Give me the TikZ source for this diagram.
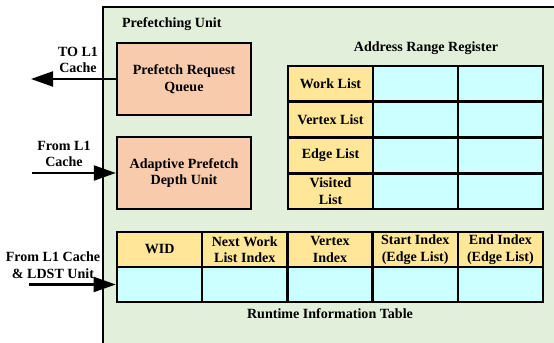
\documentclass[tikz,border=0pt]{standalone}
\usepackage{fontspec}
\setmainfont{Liberation Serif}
\usetikzlibrary{arrows.meta}

\definecolor{unitgreen}{HTML}{E2EFDA}
\definecolor{boxsalmon}{HTML}{F8CBAD}
\definecolor{headyellow}{HTML}{FFE699}
\definecolor{cellcyan}{HTML}{CCFFFF}

\begin{document}
\begin{tikzpicture}[x=0.03cm,y=-0.03cm,
	every node/.style={font=\bfseries\fontsize{12}{14}\selectfont,align=center},
	unitbox/.style={draw,line width=2pt,fill=boxsalmon,minimum width=4.02cm,minimum height=2.16cm},
	headcell/.style={draw,line width=2.2pt,fill=headyellow,inner sep=1pt,minimum width=2.556cm,minimum height=#1},
	datacell/.style={draw,line width=2.2pt,fill=cellcyan,inner sep=1pt,minimum width=2.556cm,minimum height=#1},
	bus/.style={line width=1.8pt,-{Triangle[length=6.6mm,width=4.5mm]}}]
	\useasboundingbox (0,0) rectangle (554,343);
	\begin{scope}
		\clip (0,0) rectangle (554,343);
		\draw[line width=1.8pt,fill=unitgreen] (103,7) rectangle (570,360);
	\end{scope}
	\draw (118,24) node[anchor=west](unittitle){Prefetching Unit};

	\node[unitbox] (prq) at (184,79) {Prefetch Request\\Queue};
	\node[unitbox] (apd) at (184,173) {Adaptive Prefetch\\Depth Unit};

	% address range register
	\draw (426,48) node(arrtitle){Address Range Register};
	\foreach \name [count=\i] in {Work List,Vertex List,Edge List,Visited\\List}{
		\node[headcell=1.0725cm] (arr-\i-1) at (330.5,{66+(\i-0.5)*35.75}) {\name};
		\node[datacell=1.0725cm] (arr-\i-2) at (415.5,{66+(\i-0.5)*35.75}) {};
		\node[datacell=1.0725cm] (arr-\i-3) at (500.5,{66+(\i-0.5)*35.75}) {};
	}

	% runtime information table
	\foreach \name [count=\j] in {WID,Next Work\\List Index,Vertex\\Index,Start Index\\(Edge List),End Index\\(Edge List)}{
		\node[headcell=1.05cm] (rit-1-\j) at ({117+(\j-0.5)*85.2},249.5) {\name};
		\node[datacell=1.05cm] (rit-2-\j) at ({117+(\j-0.5)*85.2},284.5) {};
	}
	\draw (330,314) node(rittitle){Runtime Information Table};

	% ports
	\coordinate (toL1) at (31,79);
	\coordinate (fromL1) at (32,173);
	\coordinate (fromLDST) at (29,284.5);
	\draw (78,60) node(toL1label){TO L1\\Cache};
	\draw (64,154) node(fromL1label){From L1\\Cache};
	\draw (53,265) node(fromLDSTlabel){From L1 Cache\\\& LDST Unit};
	\draw[bus] (prq.west) -- (toL1);
	\draw[bus] (fromL1) -- (apd.west);
	\draw[bus] (fromLDST) -- (rit-2-1.west);
\end{tikzpicture}
\end{document}
